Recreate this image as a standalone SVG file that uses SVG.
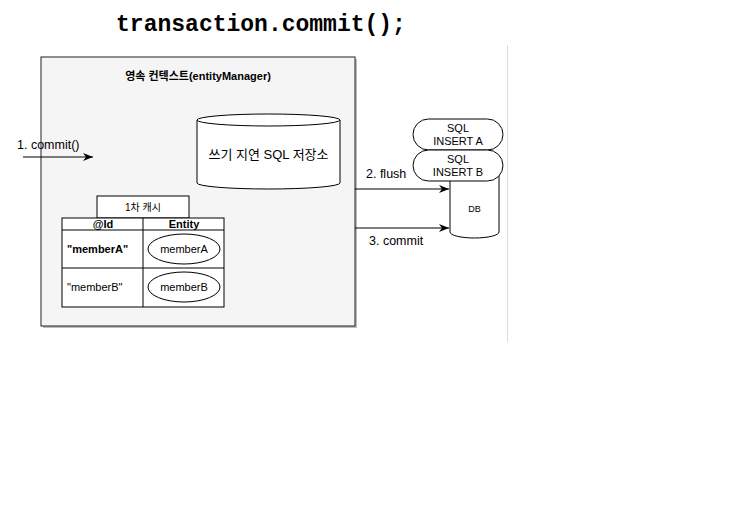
<svg xmlns="http://www.w3.org/2000/svg" width="753" height="531" viewBox="0 0 753 531">
<defs>
<marker id="arr" viewBox="0 0 10 10" refX="10" refY="5" markerWidth="10" markerHeight="10" markerUnits="userSpaceOnUse" orient="auto">
<path d="M0,1 L10,5 L0,9 L3,5 Z" fill="#000"/>
</marker>
</defs>
<style>
.t{font-family:"Liberation Sans","Noto Sans CJK KR",Arial,sans-serif;fill:#000}
.ln{stroke:#000;stroke-width:1;fill:none}
.w{fill:#fff;stroke:#000;stroke-width:1}
</style>
<rect width="753" height="531" fill="#fff"/>
<line x1="507.5" y1="45" x2="507.5" y2="342" stroke="#dcdcdc" stroke-width="1"/>
<text x="261" y="31" text-anchor="middle" font-family="'Liberation Mono','Courier New',monospace" font-weight="bold" font-size="23">transaction.commit();</text>

<g id="persistence-context">
<rect x="43" y="59" width="314" height="269" fill="#bdbdbd"/>
<rect x="41" y="57" width="314" height="269" fill="#f5f5f5" stroke="#222" stroke-width="1"/>
<text class="t" x="198" y="80" text-anchor="middle" font-size="11" font-weight="bold">영속 컨텍스트(entityManager)</text>
</g>

<g id="sql-store">
<path class="w" d="M197,120 L197,183 A71.5,6 0 0 0 340,183 L340,120"/>
<ellipse class="w" cx="268.5" cy="120" rx="71.5" ry="6"/>
<text class="t" x="268.5" y="159" text-anchor="middle" font-size="13">쓰기 지연 SQL 저장소</text>
</g>

<g id="cache">
<rect class="w" x="97" y="196" width="92" height="22"/>
<text class="t" x="143" y="211" text-anchor="middle" font-size="10">1차 캐시</text>
<rect class="w" x="62" y="218" width="162" height="89"/>
<line class="ln" x1="62" y1="230" x2="224" y2="230"/>
<line class="ln" x1="62" y1="268" x2="224" y2="268"/>
<line class="ln" x1="143" y1="218" x2="143" y2="307"/>
<text class="t" x="103" y="228" text-anchor="middle" font-size="11" font-weight="bold">@Id</text>
<text class="t" x="184" y="228" text-anchor="middle" font-size="11" font-weight="bold">Entity</text>
<text class="t" x="67" y="253" font-size="11" font-weight="bold">"memberA"</text>
<text class="t" x="67" y="291" font-size="11">"memberB"</text>
<ellipse class="w" cx="184" cy="249" rx="36" ry="15"/>
<text class="t" x="184" y="253" text-anchor="middle" font-size="11">memberA</text>
<ellipse class="w" cx="184" cy="287" rx="36" ry="15"/>
<text class="t" x="184" y="291" text-anchor="middle" font-size="11">memberB</text>
</g>

<g id="db">
<path class="w" d="M450,170 L450,232 A24.5,6 0 0 0 499,232 L499,170"/>
<text class="t" x="474.5" y="212" text-anchor="middle" font-size="9">DB</text>
</g>

<g id="sql-insert-a">
<rect class="w" x="413" y="119" width="90" height="31" rx="15.5" ry="15.5"/>
<text class="t" x="458" y="132" text-anchor="middle" font-size="11">SQL</text>
<text class="t" x="458" y="145" text-anchor="middle" font-size="11">INSERT A</text>
</g>

<g id="sql-insert-b">
<rect class="w" x="413" y="150" width="90" height="31" rx="15.5" ry="15.5"/>
<text class="t" x="458" y="163" text-anchor="middle" font-size="11">SQL</text>
<text class="t" x="458" y="176" text-anchor="middle" font-size="11">INSERT B</text>
</g>

<g id="connectors">
<line class="ln" x1="23" y1="157" x2="93" y2="157" marker-end="url(#arr)"/>
<text class="t" x="17" y="149" font-size="12.5">1. commit()</text>
<line class="ln" x1="355" y1="189" x2="449" y2="189" marker-end="url(#arr)"/>
<text class="t" x="366" y="178" font-size="12.5">2. flush</text>
<line class="ln" x1="355" y1="228" x2="449" y2="228" marker-end="url(#arr)"/>
<text class="t" x="369" y="245" font-size="12.5">3. commit</text>
</g>
</svg>
